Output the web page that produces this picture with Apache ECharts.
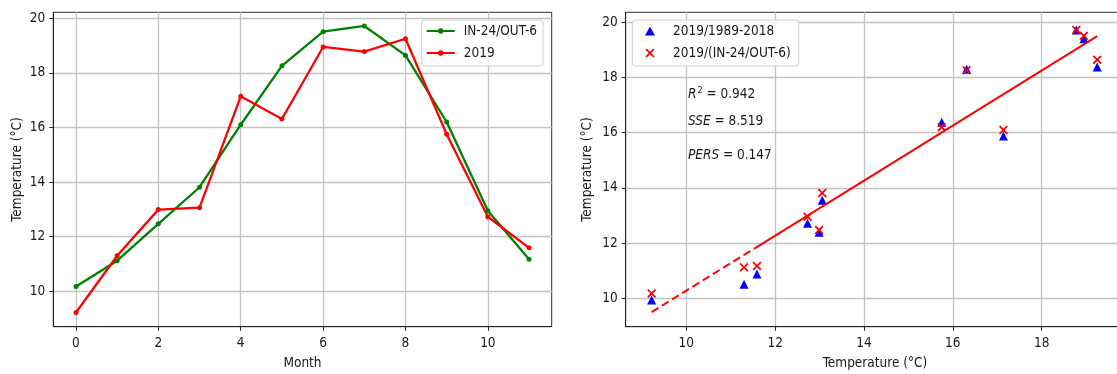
<!DOCTYPE html>
<html>
<head>
<meta charset="utf-8">
<script src="https://cdn.jsdelivr.net/npm/echarts@6/dist/echarts.min.js"></script>
<style>
  html, body { margin: 0; padding: 0; background: #fff; }
  #chart { width: 1117px; height: 374px; }
</style>
</head>
<body>
<div id="chart"></div>
<script>
// Monthly mean temperatures (°C)
const months = [0, 1, 2, 3, 4, 5, 6, 7, 8, 9, 10, 11];
const modelInOut = [10.17, 11.12, 12.47, 13.81, 16.10, 18.26, 19.51, 19.72, 18.64, 16.20, 12.95, 11.17];
const obs2019 = [9.22, 11.30, 12.99, 13.06, 17.14, 16.31, 18.95, 18.78, 19.25, 15.75, 12.73, 11.59];
const clim1989to2018 = [9.94, 10.51, 12.39, 13.55, 15.88, 18.30, 19.40, 19.72, 18.38, 16.38, 12.72, 10.88];

// Fitted line, split into an extrapolated (dashed) and a fitted (solid) piece
const fitDashed = [[9.22, 9.50], [11.55, 11.82]];
const fitSolid = [[11.55, 11.82], [19.25, 19.50]];

// Tick values
const monthTicks = [0, 2, 4, 6, 8, 10];
const leftTempTicks = [10, 12, 14, 16, 18, 20];
const rightXTicks = [10, 12, 14, 16, 18];
const rightYTicks = [10, 12, 14, 16, 18, 20];

// Fit statistics
const statNames = ['R', 'SSE', 'PERS'];
const statValues = ['0.942', '8.519', '0.147'];

const FONT = '"DejaVu Sans Condensed", "DejaVu Sans", sans-serif';
const TXT = '#1a1a1a';
const FS = 13.5;

const pairs = (xs, ys) => xs.map((x, i) => [x, ys[i]]);

function valueAxis(opts, ticks, labelMargin) {
  return Object.assign({
    type: 'value',
    minInterval: 2,
    maxInterval: 2,
    axisLine: { show: true, onZero: false, lineStyle: { color: '#222', width: 1 } },
    axisTick: { show: true, inside: false, length: 4, customValues: ticks, lineStyle: { color: '#222', width: 1 } },
    axisLabel: { color: TXT, fontFamily: FONT, fontSize: FS, margin: labelMargin, customValues: ticks },
    splitLine: { show: true, lineStyle: { color: '#c3c3c3', width: 1.3 } },
    nameLocation: 'middle',
    nameTextStyle: { color: TXT, fontFamily: FONT, fontSize: FS }
  }, opts);
}

const crossPath = 'path://M0,1.4L1.4,0L5,3.6L8.6,0L10,1.4L6.4,5L10,8.6L8.6,10L5,6.4L1.4,10L0,8.6L3.6,5Z';

const statTexts = statNames.map((n, i) => {
  const sup = n === 'R' ? '{sup|2}' : '';
  return {
    type: 'text',
    left: 688,
    top: [86, 114, 148][i],
    style: {
      text: '{i|' + n + '}' + sup + '{n| = ' + statValues[i] + '}',
      rich: {
        i: { fontFamily: FONT, fontStyle: 'italic', fontSize: 13.5, fill: TXT },
        sup: { fontFamily: FONT, fontSize: 9, fill: TXT, padding: [0, 0, 7, 1] },
        n: { fontFamily: FONT, fontSize: 13.5, fill: TXT }
      }
    }
  };
});

const chart = echarts.init(document.getElementById('chart'), null, { renderer: 'canvas' });

chart.setOption({
  animation: false,
  backgroundColor: '#fff',
  textStyle: { fontFamily: FONT },
  grid: [
    { left: 53.3, top: 12.3, right: 565.3, bottom: 47.3, outerBoundsMode: 'none', containLabel: false, show: true, borderColor: '#333', borderWidth: 1, backgroundColor: 'transparent' },
    { left: 625.7, top: 12.3, right: -7.3, bottom: 47.3, outerBoundsMode: 'none', containLabel: false, show: true, borderColor: '#333', borderWidth: 1, backgroundColor: 'transparent' }
  ],
  xAxis: [
    valueAxis({ gridIndex: 0, min: -0.55, max: 11.55, name: 'Month', nameGap: 30 }, monthTicks, 10),
    valueAxis({ gridIndex: 1, min: 8.636, max: 19.86, name: 'Temperature (°C)', nameGap: 30 }, rightXTicks, 10)
  ],
  yAxis: [
    valueAxis({ gridIndex: 0, min: 8.70, max: 20.22, name: 'Temperature (°C)', nameGap: 29 }, leftTempTicks, 8),
    valueAxis({ gridIndex: 1, min: 8.97, max: 20.36, name: 'Temperature (°C)', nameGap: 31 }, rightYTicks, 8)
  ],
  legend: [
    {
      orient: 'vertical',
      left: 421.7, top: 20,
      padding: [4, 6, 6, 4],
      itemWidth: 28, itemHeight: 7, itemGap: 8,
      backgroundColor: 'rgba(255,255,255,0.85)',
      borderColor: '#d0d0d0', borderWidth: 1, borderRadius: 3,
      textStyle: { color: TXT, fontFamily: FONT, fontSize: FS, padding: [0, 0, 0, 4] },
      data: ['IN-24/OUT-6', '2019']
    },
    {
      orient: 'vertical',
      left: 632.3, top: 20,
      padding: [4, 8, 6, 12.7],
      itemWidth: 10, itemHeight: 9, itemGap: 8,
      backgroundColor: 'rgba(255,255,255,0.85)',
      borderColor: '#d0d0d0', borderWidth: 1, borderRadius: 3,
      textStyle: { color: TXT, fontFamily: FONT, fontSize: FS, padding: [0, 0, 0, 13] },
      data: ['2019/1989-2018', '2019/(IN-24/OUT-6)']
    }
  ],
  graphic: statTexts,
  series: [
    {
      name: 'IN-24/OUT-6', type: 'line', xAxisIndex: 0, yAxisIndex: 0,
      data: pairs(months, modelInOut),
      symbol: 'circle', symbolSize: 5, showAllSymbol: true,
      lineStyle: { color: '#008000', width: 2.3 },
      itemStyle: { color: '#008000' }
    },
    {
      name: '2019', type: 'line', xAxisIndex: 0, yAxisIndex: 0,
      data: pairs(months, obs2019),
      symbol: 'circle', symbolSize: 5, showAllSymbol: true,
      lineStyle: { color: '#ff0000', width: 2.3 },
      itemStyle: { color: '#ff0000' }
    },
    {
      name: '2019/1989-2018', type: 'scatter', xAxisIndex: 1, yAxisIndex: 1,
      data: pairs(obs2019, clim1989to2018),
      symbol: 'triangle', symbolSize: [9, 9],
      itemStyle: { color: '#0000ff', opacity: 1 }
    },
    {
      name: '2019/(IN-24/OUT-6)', type: 'scatter', xAxisIndex: 1, yAxisIndex: 1,
      data: pairs(obs2019, modelInOut),
      symbol: crossPath, symbolSize: [9, 9],
      itemStyle: { color: '#ff0000', opacity: 1 }
    },
    {
      name: 'fit-extrapolated', type: 'line', xAxisIndex: 1, yAxisIndex: 1,
      data: fitDashed, symbol: 'none',
      lineStyle: { color: '#ff0000', width: 2, type: [8, 4] }
    },
    {
      name: 'fit', type: 'line', xAxisIndex: 1, yAxisIndex: 1,
      data: fitSolid, symbol: 'none',
      lineStyle: { color: '#ff0000', width: 2 }
    }
  ]
});
</script>
</body>
</html>
